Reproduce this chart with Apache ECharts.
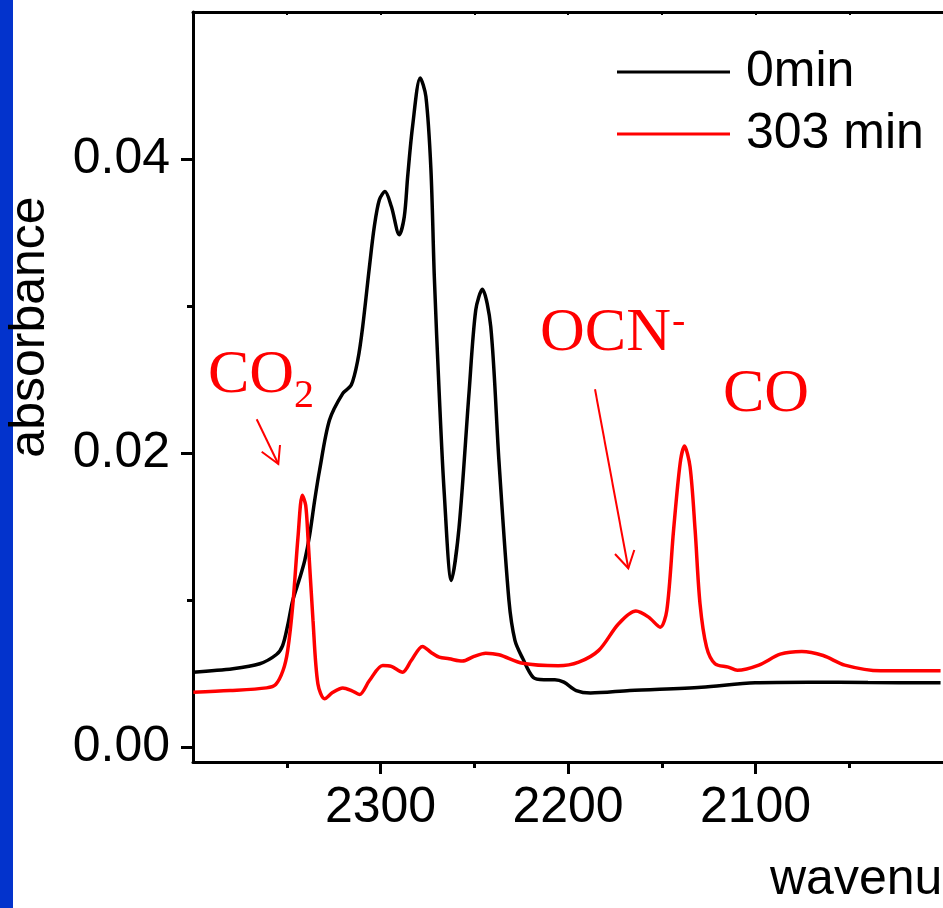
<!DOCTYPE html>
<html>
<head>
<meta charset="utf-8">
<script src="https://cdn.jsdelivr.net/npm/echarts@6/dist/echarts.min.js"></script>
<style>
html,body{margin:0;padding:0;background:#fff;}
#chart{width:943px;height:908px;}
</style>
</head>
<body>
<div id="chart"></div>
<script>
// ---- data ----
const wavenumber0 = [2400, 2378.7, 2364.4, 2355.5, 2352.2, 2349.5, 2346.8, 2343.1, 2340.4, 2337.8, 2335.1, 2332.5, 2327.2, 2320.1, 2315.6, 2312.1, 2309.5, 2305.9, 2303.3, 2300.6, 2297.6, 2294.2, 2290.0, 2287.3, 2285.5, 2282.9, 2278.8, 2275.8, 2273.1, 2271.3, 2268.7, 2266.0, 2262.2, 2258.1, 2252.8, 2249.2, 2245.7, 2241.2, 2236.8, 2231.5, 2228.3, 2224.2, 2218.5, 2212.9, 2207.0, 2202.2, 2195.6, 2188.0, 2167.1, 2128.9, 2100.2, 2071.5, 2040.0, 2001.3];
const absorb0 = [0.00511, 0.00534, 0.00568, 0.00631, 0.00692, 0.00829, 0.00999, 0.01149, 0.01271, 0.01442, 0.01680, 0.01884, 0.02225, 0.02407, 0.02463, 0.02634, 0.02860, 0.03268, 0.03541, 0.03723, 0.03779, 0.03677, 0.03485, 0.03609, 0.03882, 0.04222, 0.04552, 0.04426, 0.03927, 0.03200, 0.02410, 0.01727, 0.01135, 0.01496, 0.02409, 0.02974, 0.03115, 0.02860, 0.01942, 0.00999, 0.00727, 0.00605, 0.00474, 0.00460, 0.00460, 0.00443, 0.00386, 0.00369, 0.00386, 0.00409, 0.00439, 0.00443, 0.00440, 0.00439];

const wavenumber303 = [2399.8, 2380.3, 2360.8, 2355.9, 2352.0, 2349.5, 2346.7, 2344.0, 2341.7, 2339.9, 2338.7, 2336.0, 2333.4, 2329.8, 2325.6, 2320.1, 2315.5, 2311.2, 2305.9, 2298.8, 2294.2, 2288.2, 2283.6, 2277.6, 2273.0, 2268.7, 2263.4, 2256.3, 2250.1, 2243.9, 2236.8, 2224.2, 2205.2, 2194.3, 2183.6, 2173.0, 2163.8, 2157.0, 2150.8, 2147.3, 2143.7, 2140.2, 2137.9, 2134.9, 2132.2, 2129.6, 2126.1, 2121.6, 2114.5, 2109.7, 2098.2, 2086.8, 2075.3, 2063.9, 2052.4, 2033.3, 2001.3];
const absorb303 = [0.00375, 0.00386, 0.00404, 0.00427, 0.00522, 0.00659, 0.00979, 0.01430, 0.01714, 0.01646, 0.01430, 0.00863, 0.00432, 0.00330, 0.00372, 0.00404, 0.00386, 0.00359, 0.00454, 0.00556, 0.00550, 0.00511, 0.00590, 0.00686, 0.00645, 0.00613, 0.00602, 0.00586, 0.00618, 0.00640, 0.00629, 0.00571, 0.00554, 0.00579, 0.00659, 0.00840, 0.00926, 0.00885, 0.00817, 0.00931, 0.01476, 0.01930, 0.02048, 0.01907, 0.01476, 0.00977, 0.00681, 0.00568, 0.00545, 0.00524, 0.00559, 0.00633, 0.00652, 0.00624, 0.00559, 0.00520, 0.00520];

const seriesNames = ['0min', '303 min'];
const xTickLabels = [2300, 2200, 2100];
const xMinorTicks = [2350, 2250, 2150, 2050];
const yTickLabels = [0, 0.02, 0.04];
const yMinorTicks = [0.01, 0.03];

const pairs = (xs, ys) => xs.map((x, i) => [x, ys[i]]);

const chart = echarts.init(document.getElementById('chart'), null, {renderer: 'canvas'});
const AX = {color: '#000', width: 3};
const sans = 'Liberation Sans';
const serif = 'Liberation Serif';
const X_MIN = 2000, X_MAX = 2400, Y_MIN = -0.001, Y_MAX = 0.05;

const tickAxisX = (values, len) => ({
  type: 'value', inverse: true, min: X_MIN, max: X_MAX, position: 'bottom',
  axisLine: {show: false, onZero: false},
  axisTick: {length: len, lineStyle: AX, customValues: values},
  axisLabel: {show: false, customValues: values},
  splitLine: {show: false}
});

chart.setOption({
  animation: false,
  backgroundColor: '#fff',
  grid: {left: 193, top: 12, right: -2, bottom: 146, containLabel: false},
  legend: {
    orient: 'vertical',
    left: 612, top: 42,
    icon: 'rect',
    itemWidth: 113, itemHeight: 3, itemGap: 12,
    data: seriesNames,
    textStyle: {fontFamily: sans, fontSize: 50, lineHeight: 50, color: '#000', padding: [0, 0, 0, 11]}
  },
  xAxis: [
    {
      type: 'value', inverse: true, min: X_MIN, max: X_MAX,
      position: 'bottom',
      axisLine: {onZero: false, lineStyle: AX},
      axisTick: {show: false},
      splitLine: {show: false},
      axisLabel: {
        fontFamily: sans, fontSize: 50, color: '#000', margin: 21,
        customValues: xTickLabels,
        formatter: v => String(v)
      }
    },
    {
      type: 'value', inverse: true, min: X_MIN, max: X_MAX,
      position: 'top',
      axisLine: {onZero: false, lineStyle: AX},
      axisTick: {inside: true, length: 3, lineStyle: {color: '#000', width: 2}, customValues: xTickLabels.concat(xMinorTicks)},
      axisLabel: {show: false},
      splitLine: {show: false}
    },
    tickAxisX(xMinorTicks, 6),
    tickAxisX(xTickLabels, 12)
  ],
  yAxis: [
    {
      type: 'value', min: Y_MIN, max: Y_MAX, position: 'left',
      axisLine: {onZero: false, lineStyle: AX},
      axisTick: {length: 12, lineStyle: AX, customValues: yTickLabels},
      axisLabel: {
        fontFamily: sans, fontSize: 50, color: '#000', margin: 23,
        customValues: yTickLabels,
        formatter: v => Number(v).toFixed(2)
      },
      splitLine: {show: false}
    },
    {
      type: 'value', min: Y_MIN, max: Y_MAX, position: 'left',
      axisLine: {show: false, onZero: false},
      axisTick: {length: 6, lineStyle: AX, customValues: yMinorTicks},
      axisLabel: {show: false, customValues: yMinorTicks},
      splitLine: {show: false}
    }
  ],
  series: [
    {
      name: seriesNames[0], type: 'line', xAxisIndex: 0, yAxisIndex: 0,
      data: pairs(wavenumber0, absorb0),
      showSymbol: false, symbol: 'none', smooth: 0.3,
      lineStyle: {color: '#000', width: 3.5}, itemStyle: {color: '#000'}
    },
    {
      name: seriesNames[1], type: 'line', xAxisIndex: 0, yAxisIndex: 0,
      data: pairs(wavenumber303, absorb303),
      showSymbol: false, symbol: 'none', smooth: 0.3,
      lineStyle: {color: '#ff0000', width: 3.5}, itemStyle: {color: '#ff0000'}
    }
  ],
  graphic: [
    {type: 'rect', shape: {x: 0, y: 0, width: 13, height: 908}, style: {fill: '#0333CC'}, silent: true},
    {type: 'text', x: 30, y: 327, rotation: Math.PI / 2,
      style: {text: 'absorbance', fontFamily: sans, fontSize: 50, fill: '#000', align: 'center', verticalAlign: 'middle'}},
    {type: 'text', x: 770, y: 880,
      style: {text: 'wavenumber (cm\u207B\u00B9)', fontFamily: sans, fontSize: 50, fill: '#000', align: 'left', verticalAlign: 'middle'}},
    // annotations
    {type: 'text', x: 208, y: 376,
      style: {text: 'CO', fontFamily: serif, fontSize: 62, fill: '#ff0000', align: 'left', verticalAlign: 'middle'}},
    {type: 'text', x: 294, y: 396,
      style: {text: '2', fontFamily: serif, fontSize: 40, fill: '#ff0000', align: 'left', verticalAlign: 'middle'}},
    {type: 'text', x: 540, y: 334,
      style: {text: 'OCN', fontFamily: serif, fontSize: 62, fill: '#ff0000', align: 'left', verticalAlign: 'middle'}},
    {type: 'text', x: 672, y: 322,
      style: {text: '-', fontFamily: serif, fontSize: 40, fill: '#ff0000', align: 'left', verticalAlign: 'middle'}},
    {type: 'text', x: 723, y: 395,
      style: {text: 'CO', fontFamily: serif, fontSize: 62, fill: '#ff0000', align: 'left', verticalAlign: 'middle'}},
    {type: 'line', shape: {x1: 256.7, y1: 419.3, x2: 278.3, y2: 464}, style: {stroke: '#ff0000', lineWidth: 2}},
    {type: 'polyline', shape: {points: [[261.7, 451.7], [278.3, 464], [280, 445]]}, style: {stroke: '#ff0000', lineWidth: 2, fill: null}},
    {type: 'line', shape: {x1: 595, y1: 389.3, x2: 628.3, y2: 568.3}, style: {stroke: '#ff0000', lineWidth: 2}},
    {type: 'polyline', shape: {points: [[615, 554], [628.3, 568.3], [634.3, 550]]}, style: {stroke: '#ff0000', lineWidth: 2, fill: null}}
  ]
});
</script>
</body>
</html>
